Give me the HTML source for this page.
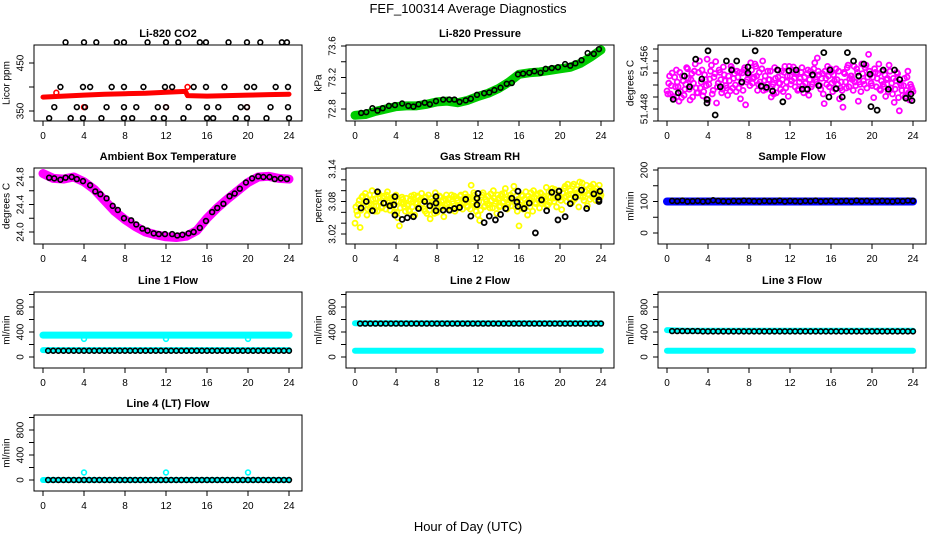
<!DOCTYPE html>
<html><head><meta charset="utf-8"><style>
html,body{margin:0;padding:0;background:#fff;}
svg{display:block;font-family:"Liberation Sans",sans-serif;}
</style></head><body>
<svg id="chart" width="936" height="540" viewBox="0 0 936 540" xmlns="http://www.w3.org/2000/svg">
<text x="468" y="13" text-anchor="middle" font-size="13">FEF_100314  Average Diagnostics</text>
<text x="468" y="531" text-anchor="middle" font-size="13">Hour of Day (UTC)</text>
</svg>
<script>
// ---------- data ----------
const xTicks = [0,4,8,12,16,20,24];
// CO2
const co2BandHours = [0,2,4,6,8,10,12,13.9,14.1,16,18,20,22,24];
const co2BandVals = [379,381,383,385,386,387,389,391,382,381,382,383,384,385];
const co2BlackHours = [2.2,4,5.2,7.2,7.9,10.2,12,13.2,15.3,15.9,18.1,19.9,21.2,23.3,23.8,
 1.7,3.9,4.6,6.7,7.9,9.8,11.9,12.6,14.7,15.9,17.7,19.9,20.6,22.7,23.9,
 1.1,3.3,4.1,6.2,7.9,9.1,11.2,12,14.2,16,17.1,19.3,19.9,22.2,23.9,
 0.6,2.7,3.9,5.7,7.9,8.7,10.8,11.8,13.7,16,16.6,18.8,19.9,21.8,24];
const co2BlackVals = [493,493,493,493,493,493,493,493,493,493,493,493,493,493,493,
 400,400,400,400,400,400,400,400,400,400,400,400,400,400,400,
 358,358,358,358,358,358,358,358,358,358,358,358,358,358,358,
 335,335,335,335,335,335,335,335,335,335,335,335,335,335,335];
const co2RedHours = [1.3,4,12,14.1,19.9];
const co2RedVals = [388,358,358,400,358];
// Pressure
const presBandHours = [0,1,2,3,4,5,6,7,8,9,10,11,12,13,14,15,16,17,18,19,20,21,22,23,24];
const presBandVals = [72.72,72.73,72.77,72.8,72.83,72.84,72.84,72.86,72.89,72.9,72.88,72.91,72.96,73.0,73.06,73.14,73.24,73.26,73.27,73.29,73.31,73.33,73.38,73.46,73.55];
const presBlackHours = [0.6,1.1,1.7,2.2,2.7,3.3,3.9,4.6,5.2,5.7,6.2,6.8,7.3,7.9,8.6,9.2,9.7,10.2,10.8,11.3,11.9,12.6,13.1,13.6,14.2,14.8,15.3,15.9,16.4,17,17.5,18.1,18.6,19.2,19.8,20.5,21,21.5,22.1,22.7,23.3,23.8];
const presBlackVals = [72.75,72.76,72.81,72.78,72.81,72.84,72.85,72.87,72.84,72.83,72.86,72.88,72.86,72.9,72.92,72.92,72.92,72.89,72.91,72.93,72.98,73.0,73.01,73.04,73.07,73.12,73.13,73.24,73.25,73.26,73.28,73.26,73.31,73.32,73.33,73.37,73.35,73.38,73.42,73.51,73.5,73.56];
// Li-820 temperature (magenta, thousandths above 51.4415), 6 per hour
const tempMag = [9.5,10.8,9.0,12.5,8.2,10.2, 11.0,7.8,9.4,12.0,8.8,10.6, 13.2,9.8,11.4,8.5,12.8,10.0, 9.2,14.5,11.0,8.7,12.2,10.4,
 8.0,11.5,13.8,9.6,12.4,7.5, 10.8,12.6,9.2,13.5,11.2,10.0, 12.0,9.5,13.2,11.6,10.5,12.8, 10.0,8.2,12.5,13.0,7.2,11.4,
 12.2,14.2,10.8,11.8,13.6,9.6, 12.6,10.4,14.5,11.2,9.8,12.8, 11.4,8.5,10.6,13.4,9.2,11.8, 10.8,12.8,9.4,13.6,11.0,8.6,
 12.0,11.2,13.5,10.2,12.6,9.8, 11.6,13.4,9.2,10.8,12.4,8.8, 12.8,10.6,13.2,11.4,15.0,12.2, 9.8,12.4,7.4,11.6,13.6,10.2,
 12.6,9.4,11.2,13.2,10.6,8.2, 11.0,6.8,12.4,10.0,13.8,11.6, 12.0,9.6,11.0,13.2,7.8,10.6, 14.0,11.2,13.4,10.0,15.6,12.2,
 10.4,8.4,12.6,11.6,14.0,9.6, 12.8,10.2,8.6,11.6,13.8,10.0, 9.0,7.6,11.2,12.4,6.2,10.4, 8.8,11.6,9.6,12.8,8.0,10.2, 9.4];
const tempMag2 = [9.0,12.0,10.4,8.6,11.8,13.0, 10.2,12.6,8.4,11.2,9.8,13.4, 11.6,8.0,12.4,10.8,14.0,9.2, 12.6,10.0,13.0,9.4,11.4,14.8,
 10.6,12.8,9.0,11.8,14.4,10.2, 13.0,11.4,9.8,12.2,10.4,8.8, 11.2,13.6,10.0,12.4,9.4,11.8, 12.6,10.8,9.6,13.4,11.0,12.2,
 10.4,13.0,11.6,14.0,12.0,10.6, 11.0,13.2,9.6,12.0,10.6,11.4, 12.8,10.2,9.0,11.6,13.0,10.8, 9.8,11.4,12.6,10.0,12.0,13.6,
 10.6,13.0,11.6,12.4,9.6,11.0, 12.6,10.4,11.8,9.8,13.0,11.4, 10.2,12.0,14.2,11.0,12.8,10.4, 11.6,9.0,12.8,10.6,12.0,13.2,
 10.8,12.2,9.8,11.4,12.8,10.0, 9.6,12.6,11.0,13.4,10.2,12.0, 11.4,13.6,10.4,12.6,11.0,9.4, 12.4,10.6,13.8,11.8,12.8,10.8,
 11.8,13.2,10.2,12.4,9.8,11.2, 10.6,12.2,11.4,9.4,12.8,10.8, 11.6,9.8,12.6,8.4,10.8,9.6, 10.4,8.6,11.8,9.2,10.6,9.8];
const tempBlackHours = [0.6,1.1,1.7,2.2,2.8,3.4,3.9,3.9,4,4.7,5.2,5.8,6.3,6.8,7.3,7.9,7.9,8.6,9.2,9.7,10.3,10.8,11.3,11.9,12.6,13.2,13.7,14.2,14.8,15.3,15.8,15.9,16.5,17.1,17.6,18.2,18.7,19.2,19.8,19.9,20.5,21.1,21.6,22.2,22.7,23.3,23.8,23.9];
const tempBlackVals = [51.4496,51.4507,51.4535,51.4517,51.4563,51.4530,51.4496,51.4490,51.4577,51.4470,51.4517,51.4560,51.4545,51.4560,51.4525,51.4550,51.4540,51.4577,51.4518,51.4516,51.4510,51.4545,51.4492,51.4544,51.4545,51.4513,51.4513,51.4537,51.4519,51.4574,51.4500,51.4545,51.4514,51.4500,51.4574,51.4560,51.4535,51.4555,51.4538,51.4484,51.4478,51.4545,51.4513,51.4545,51.4529,51.4498,51.4505,51.4494];
// Ambient
const ambBandHours = [0,1,2,3,4,5,6,7,8,9,10,11,12,13,14,15,16,17,18,19,20,21,22,23,24];
const ambBandVals = [24.85,24.78,24.77,24.8,24.73,24.62,24.46,24.3,24.18,24.08,24.0,23.96,23.93,23.92,23.94,24.02,24.2,24.35,24.48,24.6,24.72,24.8,24.81,24.78,24.77];
const ambBlackHours = [0.6,1.1,1.7,2.2,2.8,3.3,3.9,4.6,5.1,5.6,6.2,6.8,7.3,7.9,8.6,9.1,9.7,10.2,10.8,11.3,11.9,12.6,13.1,13.6,14.2,14.7,15.3,15.9,16.5,17,17.6,18.2,18.7,19.2,19.8,20.4,21,21.5,22.1,22.6,23.2,23.8];
const ambBlackVals = [24.79,24.78,24.76,24.79,24.8,24.77,24.74,24.68,24.59,24.55,24.49,24.38,24.32,24.2,24.17,24.11,24.05,24.02,23.98,23.97,23.97,23.97,23.95,23.96,23.98,24.0,24.06,24.16,24.29,24.35,24.41,24.52,24.56,24.63,24.72,24.78,24.81,24.8,24.8,24.77,24.78,24.77];
// Gas stream RH (yellow, thousandths above 3.000), 6 per hour
const rhYel = [40,62,75,32,88,70, 95,55,80,68,100,72, 85,62,94,78,70,90, 66,98,82,74,88,60,
 92,50,35,78,84,70, 86,72,62,90,80,55, 76,88,68,95,82,62, 58,92,48,80,72,96,
 60,78,88,70,52,84, 75,86,64,80,90,68, 82,72,92,66,78,88, 70,84,110,76,92,62,
 55,45,88,96,72,80, 90,68,82,100,76,58, 86,72,94,80,104,66, 78,92,84,108,70,62,
 35,80,90,70,98,55, 84,96,62,88,76,92, 68,94,80,88,106,74, 78,98,86,102,70,92,
 88,65,95,108,80,92, 100,78,112,86,96,70, 90,114,82,98,72,104, 108,88,100,82,94,110, 92];
const rhYel2 = [70,55,82,64,90,78, 88,66,92,74,84,62, 72,96,80,68,86,76, 92,78,64,84,72,90,
 60,80,68,88,76,62, 74,64,84,70,92,78, 90,70,84,76,66,88, 80,64,86,74,58,84,
 76,90,68,82,74,92, 84,70,92,76,62,86, 68,90,76,84,94,72, 88,66,80,96,72,84,
 80,64,92,70,84,76, 74,94,68,86,80,92, 70,90,78,96,84,74, 86,72,96,78,90,84,
 74,92,66,84,78,90, 70,86,100,78,94,82, 96,76,90,84,72,98, 88,104,80,94,86,100,
 82,96,104,90,112,86, 94,108,84,102,90,116, 106,88,100,110,94,84, 98,112,90,104,96,88];
const rhBlackHours = [0.6,1.1,1.7,2.2,2.8,3.4,3.8,3.9,3.9,4.6,5.1,5.7,6.2,6.8,7.3,7.9,7.9,7.9,8.6,9.2,9.7,10.2,10.8,11.3,11.9,11.9,12,12.6,13.1,13.7,14.2,14.7,15.3,15.8,15.9,15.9,16.5,17,17.6,18.2,18.7,19.2,19.8,19.8,19.9,20.5,21,21.5,22.1,22.6,23.3,23.8,23.8,23.9];
const rhBlackVals = [3.068,3.080,3.063,3.098,3.077,3.072,3.074,3.089,3.055,3.047,3.050,3.052,3.067,3.080,3.072,3.077,3.063,3.089,3.064,3.064,3.067,3.069,3.084,3.053,3.086,3.074,3.095,3.041,3.053,3.046,3.056,3.067,3.086,3.079,3.071,3.099,3.067,3.077,3.022,3.083,3.063,3.097,3.088,3.046,3.099,3.052,3.076,3.088,3.101,3.067,3.094,3.083,3.080,3.099];
// Flows
const sampleBand = [100,100,100,100,100,100,100,100,100,100,100,100,100,100,100,100,100,100,100,100,100,100,100,100,100];
const sampleBlack = [102,101,103,100,101,102,100,101,104,102,101,100,102,101,103,102,101,100,102,101,101,103,100,102,101,100,102,101,103,100,101,102,100,101,102,100,103,101,102,100,101,102,101,100,102,101,103,102];
const line1CyanHi = [350,350,350,350,350,350,350,350,350,350,350,350,350,350,350,350,350,350,350,350,350,350,350,350,350];
const line1CyanLo = [110,110,110,110,110,110,110,110,110,110,110,110,110,110,110,110,110,110,110,110,110,110,110,110,110];
const line1Black = [100,100,100,100,100,100,100,100,100,100,100,100,100,100,100,100,100,100,100,100,100,100,100,100,100,100,100,100,100,100,100,100,100,100,100,100,100,100,100,100,100,100,100,100,100,100,100,100];
const line1DipHours = [4,12,20];
const line1DipVals = [290,290,290];
const line2CyanHi = [540,540,540,540,540,540,540,540,540,540,540,540,540,540,540,540,540,540,540,540,540,540,540,540,540];
const line2CyanLo = [100,100,100,100,100,100,100,100,100,100,100,100,100,100,100,100,100,100,100,100,100,100,100,100,100];
const line2Black = [535,535,535,535,535,535,535,535,535,535,535,535,535,535,535,535,535,535,535,535,535,535,535,535,535,535,535,535,535,535,535,535,535,535,535,535,535,535,535,535,535,535,535,535,535,535,535,535];
const line3CyanHi = [430,425,420,420,420,420,420,420,420,420,420,420,420,420,420,420,420,420,420,420,420,420,420,420,420];
const line3CyanLo = [100,100,100,100,100,100,100,100,100,100,100,100,100,100,100,100,100,100,100,100,100,100,100,100,100];
const line3Black = [415,415,415,415,415,415,410,410,410,410,410,410,410,410,410,410,410,410,410,410,410,410,410,410,410,410,410,410,410,410,410,410,410,410,410,410,410,410,410,410,410,410,410,410,410,410,410,410];
const line4Cyan = [0,0,0,0,0,0,0,0,0,0,0,0,0,0,0,0,0,0,0,0,0,0,0,0,0];
const line4Black = [0,0,0,0,0,0,0,0,0,0,0,0,0,0,0,0,0,0,0,0,0,0,0,0,0,0,0,0,0,0,0,0,0,0,0,0,0,0,0,0,0,0,0,0,0,0,0,0];
const line4SpikeHours = [4,12,20];
const line4SpikeVals = [120,120,120];

// ---------- layout ----------
const NS = 'http://www.w3.org/2000/svg';
const svg = document.getElementById('chart');
const colLeft = [34,346,658], rowTop = [45,168,292,415], BW = 268, BH = 76;
function mk(tag, attrs, parent){ const e=document.createElementNS(NS,tag); for(const k in attrs) e.setAttribute(k,attrs[k]); (parent||svg).appendChild(e); return e; }

function panel(name, col, row, title, ylab, v1, p1, v2, p2, yt, ylabels){
  const g = mk('g',{});
  
  
  const L = colLeft[col], T = rowTop[row];
  const xs = h => L + 9 + h*246/24;
  const ys = v => T + p1 + (v - v1)*(p2-p1)/(v2-v1);
  const t = mk('text',{x:L+BW/2, y:T-8, 'text-anchor':'middle', 'font-size':11, 'font-weight':'bold'}, g);
  t.textContent = title;
  
  
  const yl = mk('text',{transform:`translate(${L-27},${T+BH/2}) rotate(-90)`, 'text-anchor':'middle', 'dominant-baseline':'central', 'font-size':10}, g);
  yl.textContent = ylab;
  
  
  const plot = mk('g',{}, g);
  
  
  const axes = mk('g',{}, g);
  
  
  mk('rect',{x:L, y:T, width:BW, height:BH, fill:'none', stroke:'#000', 'stroke-width':1}, axes);
  xTicks.forEach(h=>{
    const x = xs(h);
    mk('line',{x1:x, y1:T+BH, x2:x, y2:T+BH+5, stroke:'#000'}, axes);
    const tl = mk('text',{x:x, y:T+BH+18, 'text-anchor':'middle', 'font-size':10}, axes);
    tl.textContent = h;
    
    
  });
  yt.forEach(v=>{
    const y = ys(v);
    mk('line',{x1:L, y1:y, x2:L-5, y2:y, stroke:'#000'}, axes);
  });
  ylabels.forEach(v=>{
    const y = ys(v);
    const tl = mk('text',{transform:`translate(${L-13},${y}) rotate(-90)`, 'text-anchor':'middle', 'dominant-baseline':'central', 'font-size':10}, axes);
    tl.textContent = v;
    
    
  });
  return {xs, ys, plot};
}
function band(p, hours, vals, color, w, nm){
  const pts = hours.map((h,i)=>p.xs(h)+','+p.ys(vals[i])).join(' ');
  const e = mk('polyline',{points:pts, fill:'none', stroke:color, 'stroke-width':w, 'stroke-linejoin':'round', 'stroke-linecap':'round'}, p.plot);
  
  
}
function pts(p, hours, vals, color, nm, r, sw){
  hours.forEach((h,i)=>{
    const c = mk('circle',{cx:p.xs(h), cy:p.ys(vals[i]), r:r||2.4, fill:'none', stroke:color, 'stroke-width':sw||1.6}, p.plot);
    
    
  });
}
const hourly = ambBandHours;
const halfHours = line1Black.map((_,i)=>0.5+i*0.5);
const sixth = tempMag.map((_,i)=>i/6);
const sixth2 = tempMag2.map((_,i)=>i/6+1/12);
const sixthR = rhYel.map((_,i)=>i/6);
const sixthR2 = rhYel2.map((_,i)=>i/6+1/12);

// CO2
let p = panel('co2',0,0,'Li-820 CO2','Licor ppm',350,66,450,18,[350,400,450],[350,450]);
band(p, co2BandHours, co2BandVals, '#ff0000', 5, 'co2-red-band');
pts(p, co2RedHours, co2RedVals, '#ff0000', 'co2-red-point');
pts(p, co2BlackHours, co2BlackVals, '#000', 'co2-black-point');
// Pressure
p = panel('pressure',1,0,'Li-820 Pressure','kPa',72.8,64,73.6,1,[72.8,73.0,73.2,73.4,73.6],[72.8,73.2,73.6]);
band(p, presBandHours, presBandVals, '#00cc00', 9, 'pressure-green-band');
pts(p, presBlackHours, presBlackVals, '#000', 'pressure-black-point');
// Temperature
p = panel('li820-temp',2,0,'Li-820 Temperature','degrees C',51.456,16,51.448,64,[51.446,51.448,51.45,51.452,51.454,51.456,51.458],[51.448,51.456]);
pts(p, sixth, tempMag.map(v=>51.4415+v/1000), '#ff00ff', 'temp-magenta-point', 2.5, 1.8);
pts(p, sixth2, tempMag2.map(v=>51.4415+v/1000), '#ff00ff', 'temp-magenta-point', 2.5, 1.8);
pts(p, tempBlackHours, tempBlackVals, '#000', 'temp-black-point', 2.5, 1.8);
// Ambient
p = panel('ambient',0,1,'Ambient Box Temperature','degrees C',24.8,9,24.0,64,[24.0,24.2,24.4,24.6,24.8],['24.0','24.4','24.8']);
band(p, ambBandHours, ambBandVals, '#ff00ff', 9, 'ambient-magenta-band');
pts(p, ambBlackHours, ambBlackVals, '#000', 'ambient-black-point');
// RH
p = panel('rh',1,1,'Gas Stream RH','percent',3.14,1,3.02,66,[3.02,3.04,3.06,3.08,3.10,3.12,3.14],['3.02','3.08','3.14']);
pts(p, sixthR, rhYel.map(v=>3+v/1000), '#ffff00', 'rh-yellow-point', 2.5, 1.8);
pts(p, sixthR2, rhYel2.map(v=>3+v/1000), '#ffff00', 'rh-yellow-point', 2.5, 1.8);
pts(p, rhBlackHours, rhBlackVals, '#000', 'rh-black-point', 2.5, 1.8);
// Sample flow
p = panel('sample-flow',2,1,'Sample Flow','ml/min',0,65,200,2,[0,50,100,150,200],[0,100,200]);
band(p, hourly, sampleBand, '#0000ff', 8, 'sample-blue-band');
pts(p, halfHours, sampleBlack, '#000', 'sample-black-point');
const flowTicks=[0,200,400,600,800,1000], flowLabels=[0,400,800];
// Line 1
p = panel('line1',0,2,'Line 1 Flow','ml/min',0,65,800,15,flowTicks,flowLabels);
band(p, hourly, line1CyanHi, '#00ffff', 7, 'line1-cyan-upper');
band(p, hourly, line1CyanLo, '#00ffff', 6, 'line1-cyan-lower');
pts(p, line1DipHours, line1DipVals, '#00ffff', 'line1-cyan-dip');
pts(p, halfHours, line1Black, '#000', 'line1-black-point');
// Line 2
p = panel('line2',1,2,'Line 2 Flow','ml/min',0,65,800,15,flowTicks,flowLabels);
band(p, hourly, line2CyanHi, '#00ffff', 6, 'line2-cyan-upper');
band(p, hourly, line2CyanLo, '#00ffff', 6, 'line2-cyan-lower');
pts(p, halfHours, line2Black, '#000', 'line2-black-point');
// Line 3
p = panel('line3',2,2,'Line 3 Flow','ml/min',0,65,800,15,flowTicks,flowLabels);
band(p, hourly, line3CyanHi, '#00ffff', 6, 'line3-cyan-upper');
band(p, hourly, line3CyanLo, '#00ffff', 6, 'line3-cyan-lower');
pts(p, halfHours, line3Black, '#000', 'line3-black-point');
// Line 4
p = panel('line4',0,3,'Line 4 (LT) Flow','ml/min',0,65,800,15,flowTicks,flowLabels);
band(p, hourly, line4Cyan, '#00ffff', 6, 'line4-cyan-band');
pts(p, line4SpikeHours, line4SpikeVals, '#00ffff', 'line4-cyan-spike');
pts(p, halfHours, line4Black, '#000', 'line4-black-point');
</script>
</body></html>
